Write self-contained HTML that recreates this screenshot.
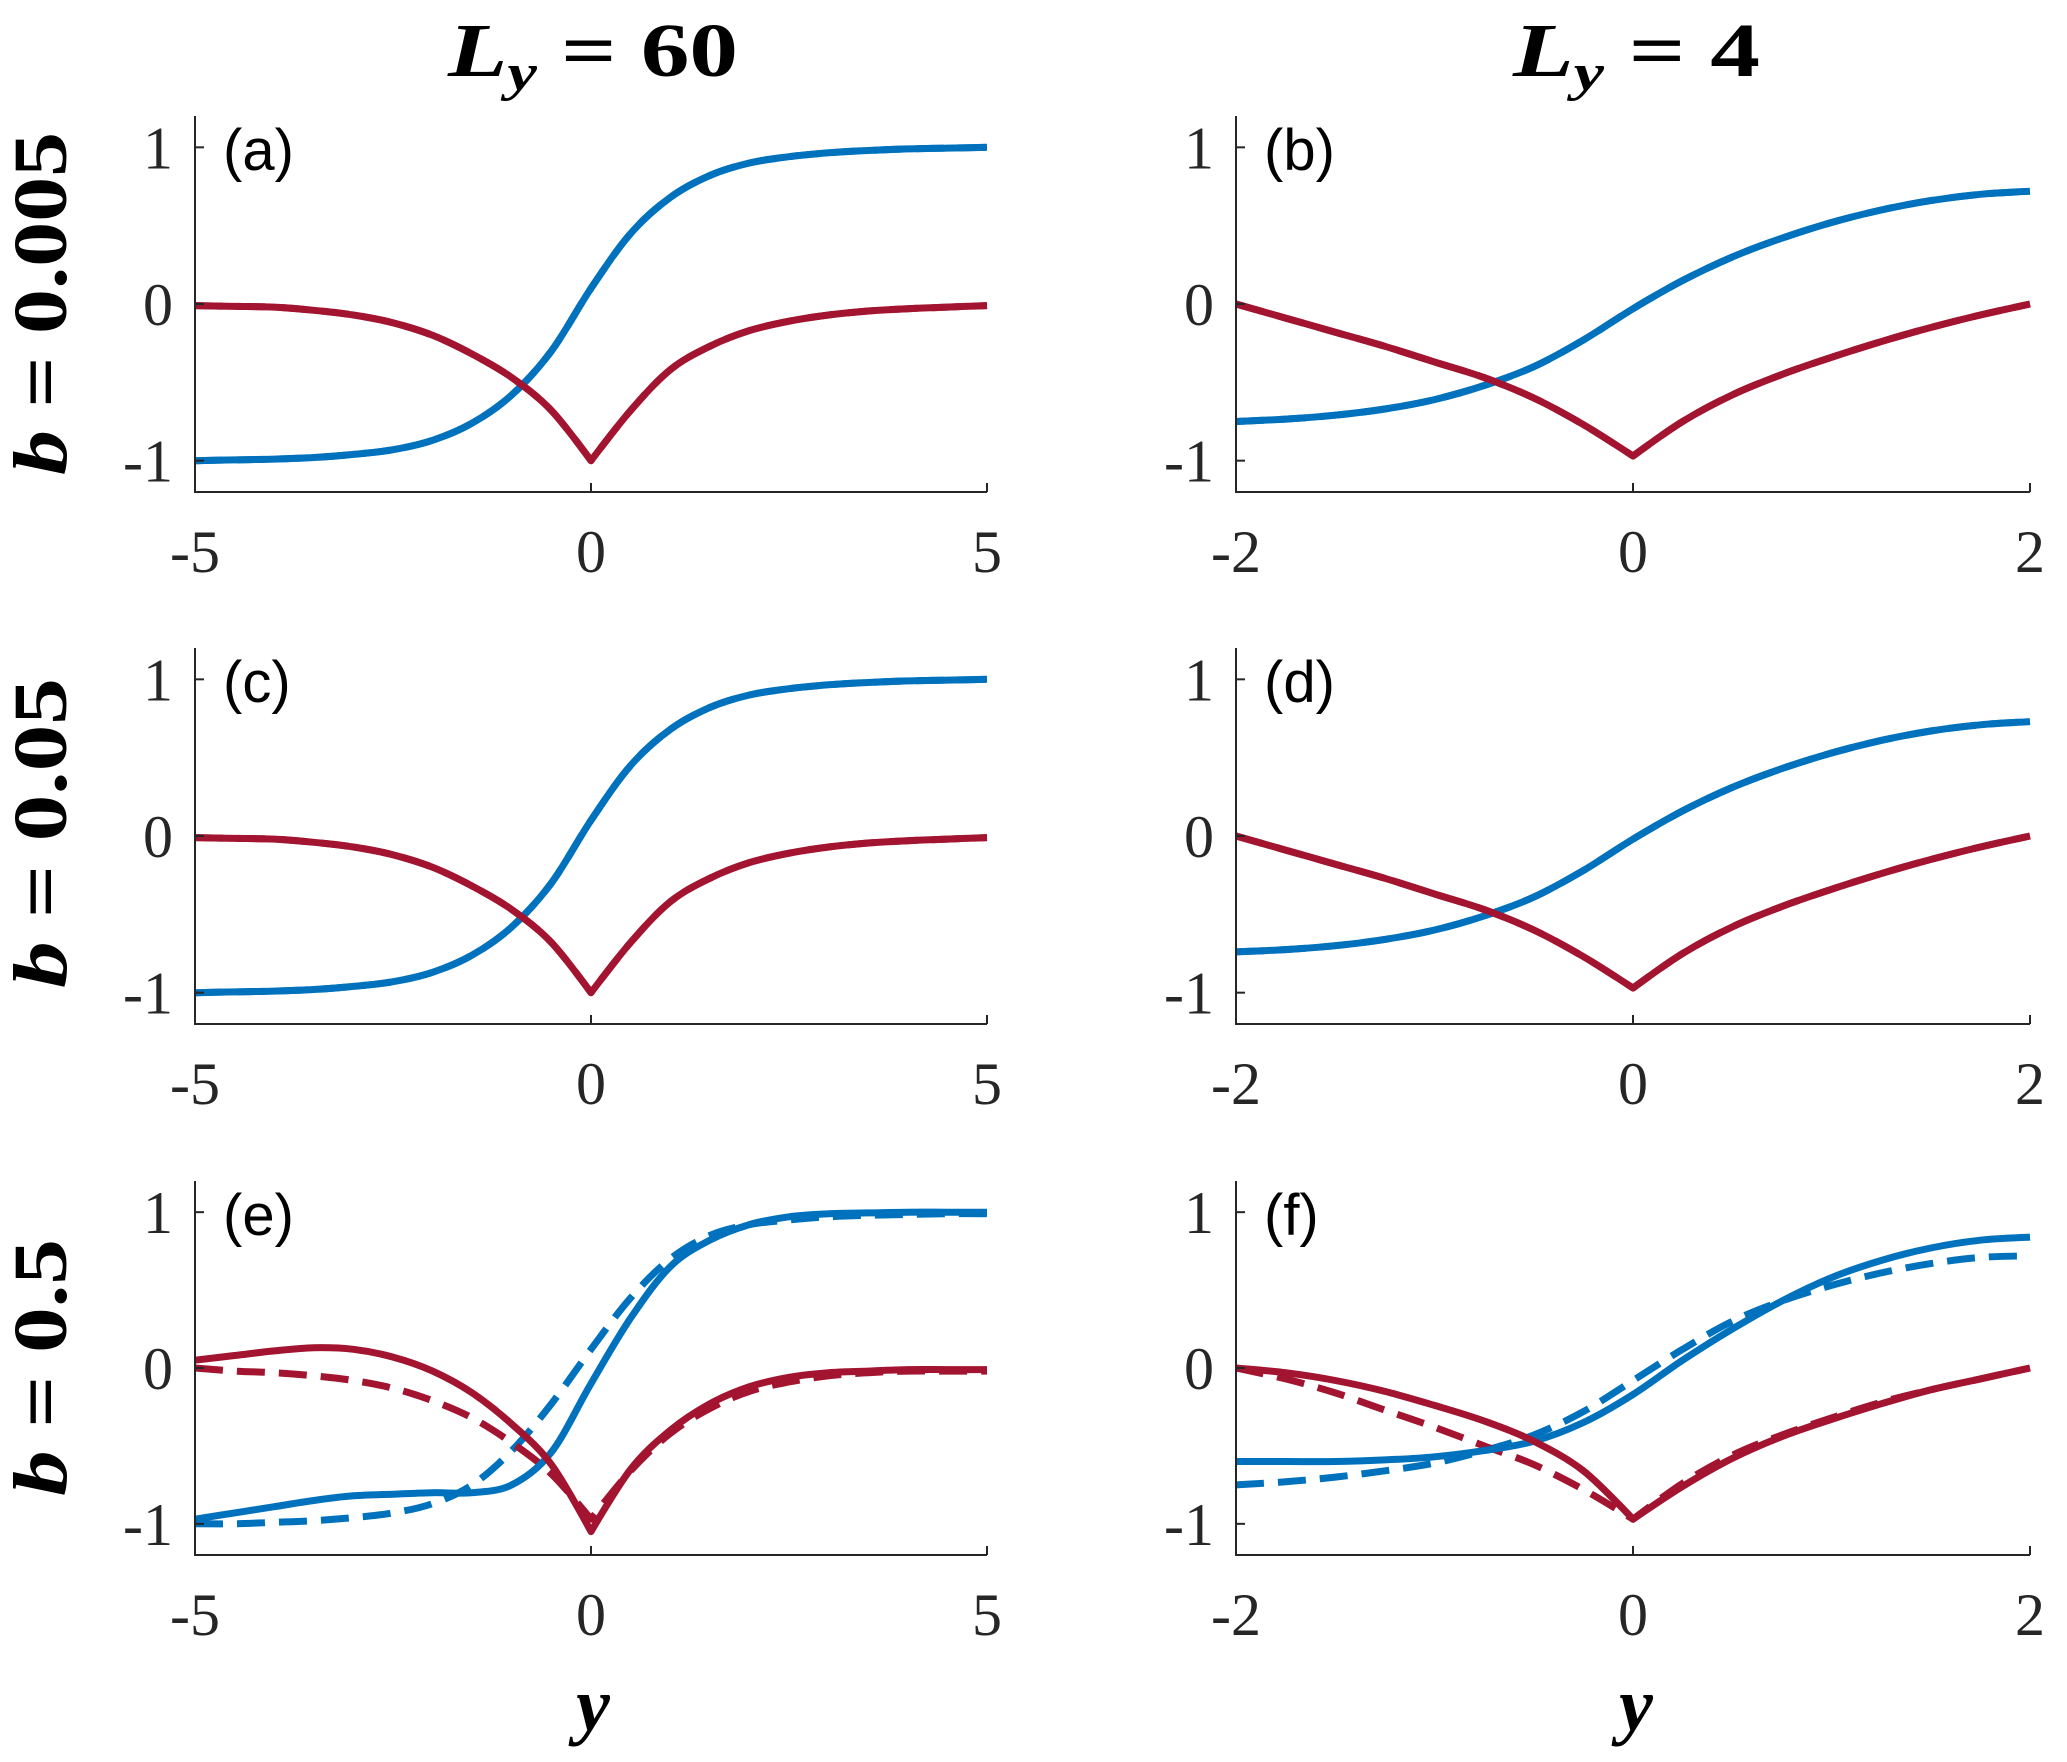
<!DOCTYPE html>
<html><head><meta charset="utf-8"><style>
html,body{margin:0;padding:0;background:#fff;}
svg{display:block;}
</style></head><body>
<svg id="fig" width="2067" height="1762" viewBox="0 0 2067 1762" xmlns="http://www.w3.org/2000/svg">
<text x="448" y="76" textLength="290" lengthAdjust="spacingAndGlyphs" font-family="Liberation Serif, serif" font-size="76" font-weight="bold"><tspan font-style="italic">L</tspan><tspan font-style="italic" font-size="52" dy="14">y</tspan><tspan dy="-14"> = 60</tspan></text>
<text x="1513" y="76" textLength="247" lengthAdjust="spacingAndGlyphs" font-family="Liberation Serif, serif" font-size="76" font-weight="bold"><tspan font-style="italic">L</tspan><tspan font-style="italic" font-size="52" dy="14">y</tspan><tspan dy="-14"> = 4</tspan></text>
<text transform="translate(66,475) rotate(-90)" textLength="343" lengthAdjust="spacingAndGlyphs" font-family="Liberation Serif, serif" font-size="76" font-weight="bold"><tspan font-style="italic">b</tspan> = 0.005</text>
<text transform="translate(66,988) rotate(-90)" textLength="310" lengthAdjust="spacingAndGlyphs" font-family="Liberation Serif, serif" font-size="76" font-weight="bold"><tspan font-style="italic">b</tspan> = 0.05</text>
<text transform="translate(66,1496) rotate(-90)" textLength="257" lengthAdjust="spacingAndGlyphs" font-family="Liberation Serif, serif" font-size="76" font-weight="bold"><tspan font-style="italic">b</tspan> = 0.5</text>
<text x="593" y="1730" text-anchor="middle" font-family="Liberation Serif, serif" font-size="76" font-weight="bold" font-style="italic">y</text>
<text x="1636" y="1730" text-anchor="middle" font-family="Liberation Serif, serif" font-size="76" font-weight="bold" font-style="italic">y</text>
</svg>
<script>
const xLeft = [-5,-4.5,-4,-3.5,-3,-2.5,-2,-1.5,-1,-0.5,0,0.5,1,1.5,2,2.5,3,3.5,4,4.5,5];
const xRight = [-2,-1.75,-1.5,-1.25,-1,-0.75,-0.5,-0.25,0,0.25,0.5,0.75,1,1.25,1.5,1.75,2];
const blueA = [-1,-0.995,-0.99,-0.98,-0.96,-0.93,-0.87,-0.76,-0.58,-0.3,0.1,0.45,0.68,0.82,0.9,0.94,0.965,0.98,0.99,0.995,1.0];
const redA = [-0.01,-0.015,-0.02,-0.04,-0.07,-0.12,-0.2,-0.32,-0.47,-0.68,-1.0,-0.68,-0.42,-0.27,-0.17,-0.11,-0.07,-0.045,-0.03,-0.02,-0.01];
const blueB = [-0.75,-0.735,-0.71,-0.67,-0.61,-0.52,-0.4,-0.23,-0.03,0.15,0.3,0.42,0.52,0.6,0.66,0.7,0.72];
const redB = [0,-0.09,-0.18,-0.27,-0.37,-0.47,-0.6,-0.77,-0.97,-0.75,-0.58,-0.45,-0.34,-0.24,-0.15,-0.07,0];
const blueC = [-1,-0.995,-0.99,-0.98,-0.96,-0.93,-0.87,-0.76,-0.58,-0.3,0.1,0.45,0.68,0.82,0.9,0.94,0.965,0.98,0.99,0.995,1.0];
const redC = [-0.01,-0.015,-0.02,-0.04,-0.07,-0.12,-0.2,-0.32,-0.47,-0.68,-1.0,-0.68,-0.42,-0.27,-0.17,-0.11,-0.07,-0.045,-0.03,-0.02,-0.01];
const blueD = [-0.74,-0.725,-0.7,-0.66,-0.6,-0.51,-0.39,-0.22,-0.02,0.16,0.31,0.43,0.53,0.61,0.67,0.71,0.73];
const redD = [0,-0.09,-0.18,-0.27,-0.37,-0.47,-0.6,-0.77,-0.97,-0.75,-0.58,-0.45,-0.34,-0.24,-0.15,-0.07,0];
const blueESolid = [-0.97,-0.93,-0.89,-0.85,-0.82,-0.81,-0.8,-0.8,-0.75,-0.54,-0.1,0.32,0.65,0.82,0.92,0.97,0.99,0.995,1,1,1];
const blueEDash = [-1,-1,-0.99,-0.98,-0.96,-0.93,-0.87,-0.75,-0.53,-0.23,0.12,0.45,0.7,0.85,0.92,0.95,0.97,0.98,0.985,0.99,0.99];
const redESolid = [0.05,0.08,0.11,0.13,0.12,0.07,-0.02,-0.16,-0.36,-0.62,-1.05,-0.65,-0.4,-0.23,-0.12,-0.06,-0.03,-0.02,-0.01,-0.01,-0.01];
const redEDash = [0,-0.02,-0.03,-0.05,-0.08,-0.13,-0.21,-0.32,-0.48,-0.68,-0.97,-0.66,-0.42,-0.26,-0.15,-0.09,-0.05,-0.03,-0.02,-0.02,-0.02];
const blueFSolid = [-0.6,-0.6,-0.6,-0.59,-0.57,-0.53,-0.47,-0.35,-0.17,0.05,0.25,0.43,0.58,0.69,0.77,0.82,0.84];
const blueFDash = [-0.75,-0.73,-0.7,-0.66,-0.61,-0.53,-0.43,-0.28,-0.08,0.12,0.3,0.43,0.53,0.61,0.67,0.71,0.72];
const redFSolid = [0,-0.03,-0.08,-0.15,-0.24,-0.34,-0.47,-0.66,-0.97,-0.76,-0.58,-0.44,-0.33,-0.23,-0.14,-0.07,0];
const redFDash = [0,-0.07,-0.16,-0.27,-0.38,-0.5,-0.62,-0.78,-0.97,-0.74,-0.56,-0.43,-0.32,-0.22,-0.14,-0.07,0];
const xTicksLeft = [-5,0,5];
const xTicksRight = [-2,0,2];
const yTicks = [-1,0,1];

const NS = 'http://www.w3.org/2000/svg';
const svg = document.getElementById('fig');
const BLUE = '#0072BD', RED = '#A2142F';
const cols = [{x0:195,x1:987},{x0:1236,x1:2030}];
const rows = [{top:116,bot:492},{top:648,bot:1024},{top:1181,bot:1555}];

function mk(tag, attrs, parent){const e=document.createElementNS(NS,tag);for(const k in attrs)e.setAttribute(k,attrs[k]);(parent||svg).appendChild(e);return e;}

function pathFrom(xs, ys, sx, sy){
  const P = xs.map((x,i)=>[sx(x), sy(ys[i])]);
  let d = 'M'+P[0][0].toFixed(1)+','+P[0][1].toFixed(1);
  for(let i=0;i<P.length-1;i++){
    const p0=P[Math.max(0,i-1)], p1=P[i], p2=P[i+1], p3=P[Math.min(P.length-1,i+2)];
    const cusp1 = i>0 && i<P.length-1 && P[i][1]>P[i-1][1] && P[i][1]>P[i+1][1];
    const cusp2 = i+1<P.length-1 && P[i+1][1]>P[i][1] && P[i+1][1]>P[i+2][1];
    const t=6;
    const c1 = cusp1 ? p1 : [p1[0]+(p2[0]-p0[0])/t, p1[1]+(p2[1]-p0[1])/t];
    const c2 = cusp2 ? p2 : [p2[0]-(p3[0]-p1[0])/t, p2[1]-(p3[1]-p1[1])/t];
    d += ' C'+c1[0].toFixed(1)+','+c1[1].toFixed(1)+' '+c2[0].toFixed(1)+','+c2[1].toFixed(1)+' '+p2[0].toFixed(1)+','+p2[1].toFixed(1);
  }
  return d;
}

const panels = [
  {r:0,c:0,lab:'(a)',xs:xLeft,xt:xTicksLeft,xmin:-5,xmax:5,series:[[blueA,BLUE,0],[redA,RED,0],[blueA,BLUE,1],[redA,RED,1]]},
  {r:0,c:1,lab:'(b)',xs:xRight,xt:xTicksRight,xmin:-2,xmax:2,series:[[blueB,BLUE,0],[redB,RED,0],[blueB,BLUE,1],[redB,RED,1]]},
  {r:1,c:0,lab:'(c)',xs:xLeft,xt:xTicksLeft,xmin:-5,xmax:5,series:[[blueC,BLUE,0],[redC,RED,0],[blueC,BLUE,1],[redC,RED,1]]},
  {r:1,c:1,lab:'(d)',xs:xRight,xt:xTicksRight,xmin:-2,xmax:2,series:[[blueD,BLUE,0],[redD,RED,0],[blueD,BLUE,1],[redD,RED,1]]},
  {r:2,c:0,lab:'(e)',xs:xLeft,xt:xTicksLeft,xmin:-5,xmax:5,series:[[blueEDash,BLUE,1],[redEDash,RED,1],[blueESolid,BLUE,0],[redESolid,RED,0]]},
  {r:2,c:1,lab:'(f)',xs:xRight,xt:xTicksRight,xmin:-2,xmax:2,series:[[blueFDash,BLUE,1],[redFDash,RED,1],[blueFSolid,BLUE,0],[redFSolid,RED,0]]}
];

panels.forEach(p=>{
  const C=cols[p.c], R=rows[p.r];
  const sx = v => C.x0 + (v-p.xmin)/(p.xmax-p.xmin)*(C.x1-C.x0);
  const sy = v => R.bot - (v+1.2)/2.4*(R.bot-R.top);
  const g = mk('g',{});
  
  
  p.series.forEach((s,i)=>{
    const path = mk('path',{d:pathFrom(p.xs,s[0],sx,sy),fill:'none',stroke:s[1],'stroke-width':7,'stroke-linejoin':'round','stroke-dasharray':s[2]?'28 14':'none'},g);
    
    
  });
  const ax = mk('path',{d:'M'+C.x0+','+R.top+' V'+R.bot+' H'+C.x1,fill:'none',stroke:'#262626','stroke-width':2},g);
  
  
  yTicks.forEach(v=>{
    mk('line',{x1:C.x0,x2:C.x0+9,y1:sy(v),y2:sy(v),stroke:'#262626','stroke-width':2},g);
    const t = mk('text',{x:C.x0-22,y:sy(v)+21,'text-anchor':'end','font-family':'Liberation Serif, serif','font-size':60,fill:'#262626'},g);
    t.textContent = v<0 ? '-'+Math.abs(v) : String(v);
    
    
  });
  p.xt.forEach(v=>{
    mk('line',{x1:sx(v),x2:sx(v),y1:R.bot,y2:R.bot-9,stroke:'#262626','stroke-width':2},g);
    const t = mk('text',{x:sx(v),y:R.bot+80,'text-anchor':'middle','font-family':'Liberation Serif, serif','font-size':60,fill:'#262626'},g);
    t.textContent = v<0 ? '-'+Math.abs(v) : String(v);
    
    
  });
  const lab = mk('text',{x:C.x0+28,y:R.top+54,'font-family':'Liberation Sans, sans-serif','font-size':58,fill:'#000'},g);
  lab.textContent = p.lab;
  
  
});
</script>
</body></html>
